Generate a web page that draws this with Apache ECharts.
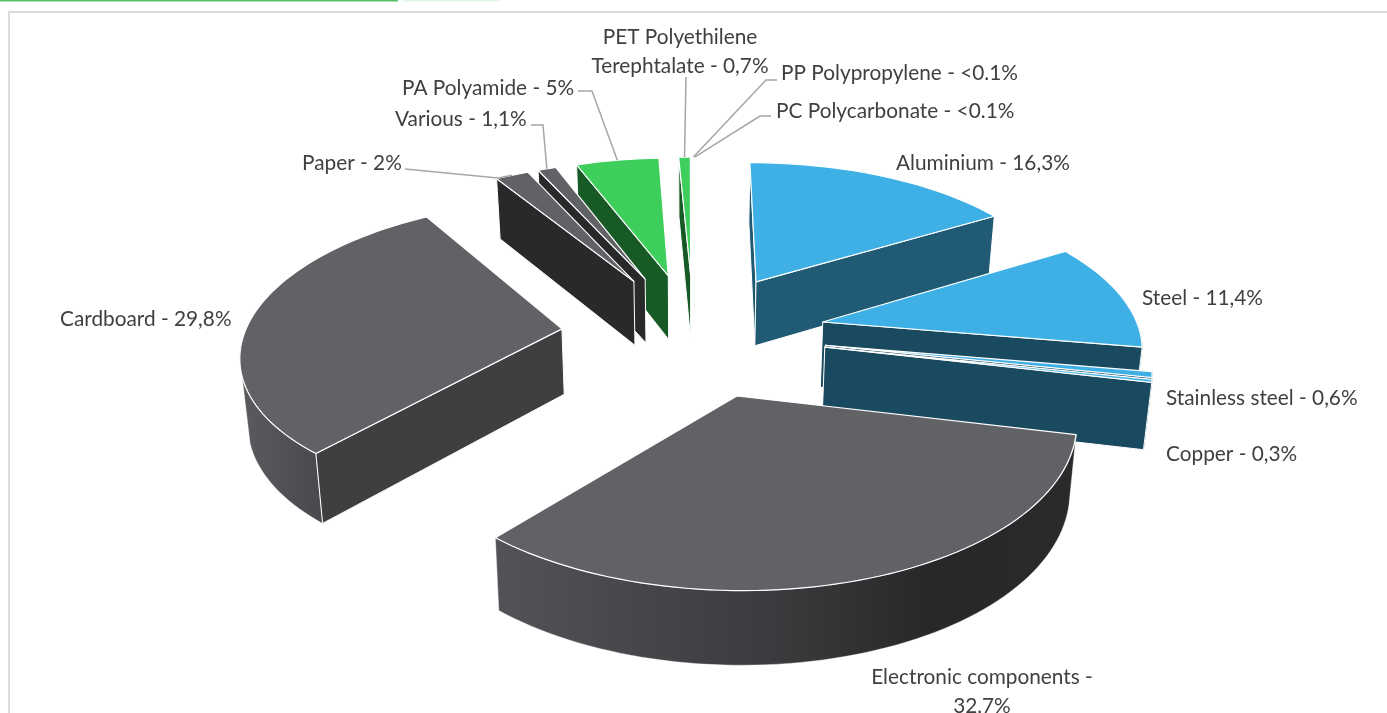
<!DOCTYPE html>
<html>
<head>
<meta charset="utf-8">
<style>html,body{margin:0;padding:0;background:#fff}#chart{width:1387px;height:713px}</style>
<script src="https://cdn.jsdelivr.net/npm/echarts@6/dist/echarts.min.js"></script>
</head>
<body>
<div id="chart"></div>
<script>
// data, clockwise from 12 o'clock
var categories = ['Aluminium','Steel','Stainless steel','Copper','Electronic components','Cardboard','Paper','Various','PA Polyamide','PET Polyethilene Terephtalate','PP Polypropylene','PC Polycarbonate'];
var values = [16.3,11.4,0.6,0.3,32.7,29.8,2,1.1,5,0.7,0.05,0.05];
var valueLabels = ['16,3%','11,4%','0,6%','0,3%','32,7%','29,8%','2%','1,1%','5%','0,7%','<0.1%','<0.1%'];
var groups = ['blue','blue','blue','blue','grey','grey','grey','grey','green','green','green','green'];

// camera of the 3d pie
var cam = {vx:691.5, hy:-749, c:1150, f:2310, cx:4, cy:144, r:337, explode:141, shrink:0.982, yaw:0.012};

var topColor = {blue:'#3eb0e5', grey:'#616266', green:'#3dce5b'};
var wallColor = {
	'Aluminium':'#205a75','Steel':'#1a4a60','Stainless steel':'#1a4a60','Copper':'#1a4a60',
	'Electronic components':'#29292b','Cardboard':'#3e3f41','Paper':'#28292b','Various':'#28292b',
	'PA Polyamide':'#185a25','PET Polyethilene Terephtalate':'#185a25','PP Polypropylene':'#185a25','PC Polycarbonate':'#185a25'
};
var arcStops = {
	'Electronic components':[[0,'#525357'],[0.5,'#3a3a3d'],[0.75,'#27282a'],[1,'#2a2a2c']],
	'Cardboard':[[0,'#5a5b5f'],[1,'#48494c']]
};
// label placement, x/y in px; pts = leader line points before it reaches the slice
var labelPos = {
	'Aluminium':{x:896,y:163},
	'Steel':{x:1142,y:298},
	'Stainless steel':{x:1166,y:398},
	'Copper':{x:1166,y:454},
	'Electronic components':{x:982,y:692,align:'center',wrap:true},
	'Cardboard':{x:60,y:319},
	'Paper':{x:302,y:163,pts:[[405,169],[498,178]]},
	'Various':{x:395,y:119,pts:[[531,125],[543,125]]},
	'PA Polyamide':{x:402,y:88,pts:[[578,91],[592,91]]},
	'PET Polyethilene Terephtalate':{x:680,y:52,align:'center',wrap:true,pts:[[686,77]]},
	'PP Polypropylene':{x:781,y:73,pts:[[777,80],[766,80]]},
	'PC Polycarbonate':{x:776,y:111,pts:[[771,116],[760,116]]}
};

var total = 0;
for(var i=0;i<values.length;i++){ total += values[i]; }
var slices = [];
var cum = 0;
for(var i=0;i<values.length;i++){
	var a0 = cum/total*Math.PI*2;
	cum += values[i];
	var a1 = cum/total*Math.PI*2;
	var mid = (a0+a1)/2;
	slices.push({
		idx:i, a0:a0, a1:a1, mid:mid,
		ax:cam.cx+cam.explode*Math.sin(mid),
		ay:cam.cy+cam.explode*Math.cos(mid)
	});
}
// far slices first
var drawOrder = slices.slice().sort(function(p,q){ return q.ay-p.ay; });

function proj(X,Y,down){
	var k = 1/(1+Y/cam.f);
	var s = down ? cam.shrink : 1;
	var sy = cam.hy+cam.c*k;
	var sx = cam.vx+X*k*s-cam.yaw*(sy-200);
	if(down){ sy += 28+40*k; }
	return [sx,sy];
}
function rimPoint(s,t,down){
	return proj(s.ax+cam.r*Math.sin(t), s.ay+cam.r*Math.cos(t), down);
}
function arcPoints(s,t0,t1,down){
	var n = Math.max(2,Math.ceil((t1-t0)/0.03));
	var pts = [];
	for(var i=0;i<=n;i++){ pts.push(rimPoint(s,t0+(t1-t0)*i/n,down)); }
	return pts;
}
function area(p){
	var sum = 0;
	for(var i=0;i<p.length;i++){
		var q = p[(i+1)%p.length];
		sum += p[i][0]*q[1]-q[0]*p[i][1];
	}
	return sum;
}
function poly(points,fill,stroke,width){
	return {type:'polygon',shape:{points:points},style:{fill:fill,stroke:stroke,lineWidth:width,lineJoin:'round'}};
}

function renderSlice(params,api){
	var s = slices[api.value(0)];
	var name = categories[s.idx];
	var wall = wallColor[name];
	var kids = [];
	var apexTop = proj(s.ax,s.ay,false);
	var apexBot = proj(s.ax,s.ay,true);

	// outer wall, only its front part shows
	var t0 = Math.max(s.a0,Math.PI/2), t1 = Math.min(s.a1,Math.PI*1.4);
	if(t1>t0){
		var outer = arcPoints(s,t0,t1,false).concat(arcPoints(s,t0,t1,true).reverse());
		var fill = wall, line = wall;
		if(arcStops[name]){
			var st = arcStops[name];
			var cs = [];
			for(var i=0;i<st.length;i++){ cs.push({offset:st[i][0],color:st[i][1]}); }
			fill = new echarts.graphic.LinearGradient(0,0,1,0,cs);
			line = '#fff';
		}
		kids.push(poly(outer,fill,line,0.4));
	}

	// radial walls, only the ones facing the camera
	var startWall = [apexTop,rimPoint(s,s.a0,false),rimPoint(s,s.a0,true),apexBot];
	var endWall = [apexTop,rimPoint(s,s.a1,false),rimPoint(s,s.a1,true),apexBot];
	if(area(startWall)<0){ kids.push(poly(startWall,wall,'#fff',1)); }
	if(area(endWall)>0){ kids.push(poly(endWall,wall,'#fff',1)); }

	// top face
	var top = [apexTop].concat(arcPoints(s,s.a0,s.a1,false));
	kids.push(poly(top,topColor[groups[s.idx]],'#fff',1.2));

	// leader line and label
	var lab = labelPos[name];
	if(lab.pts){
		kids.push({type:'polyline',shape:{points:lab.pts.concat([rimPoint(s,s.mid,false)])},
			style:{fill:null,stroke:'#a6a6a6',lineWidth:1.5}});
	}
	var text;
	if(name=='PET Polyethilene Terephtalate'){
		text = 'PET Polyethilene\nTerephtalate - '+valueLabels[s.idx];
	}else if(lab.wrap){
		text = name+' -\n'+valueLabels[s.idx];
	}else{
		text = name+' - '+valueLabels[s.idx];
	}
	kids.push({type:'text',z2:50,style:{text:text,x:lab.x,y:lab.y,fill:'#404040',
		font:'20.8px Lato',lineHeight:29,align:lab.align||'left',verticalAlign:'middle'}});
	return {type:'group',children:kids};
}

var seriesData = [];
for(var i=0;i<drawOrder.length;i++){ seriesData.push([drawOrder[i].idx]); }

var myChart = echarts.init(document.getElementById('chart'));
var option = {
	animation:false,
	backgroundColor:'#fff',
	graphic:[
		{type:'rect',shape:{x:0,y:0,width:398,height:1.5},style:{fill:'#5abf64'}},
		{type:'rect',shape:{x:403,y:0,width:96,height:1.5},style:{fill:'#e0f5e3'}},
		{type:'rect',shape:{x:8,y:11,width:1379,height:2},style:{fill:'#dcdcdc'}},
		{type:'rect',shape:{x:8,y:11,width:2,height:702},style:{fill:'#dcdcdc'}}
	],
	series:[{
		type:'custom',
		coordinateSystem:'none',
		silent:true,
		renderItem:renderSlice,
		data:seriesData
	}]
};
myChart.setOption(option);
</script>
</body>
</html>
